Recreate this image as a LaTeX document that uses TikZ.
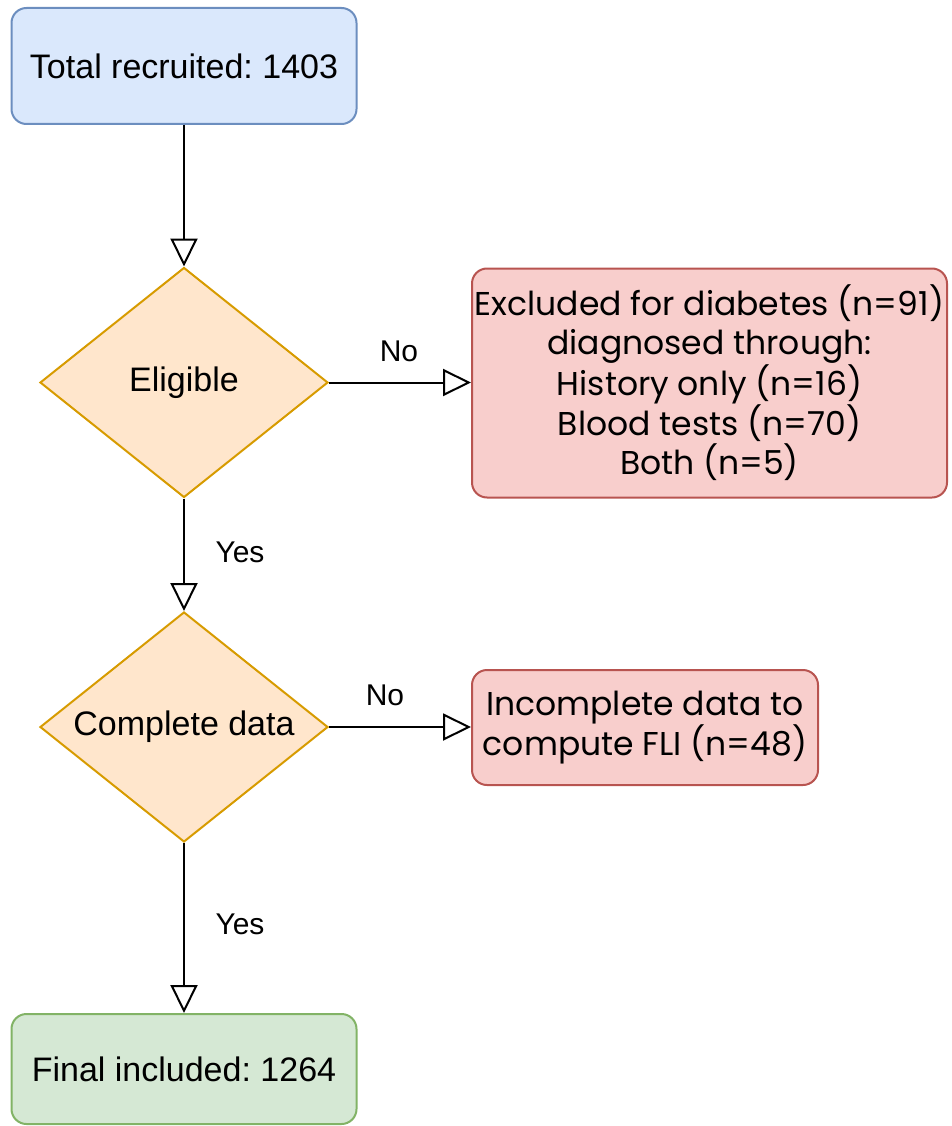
\documentclass[tikz,border=0pt]{standalone}
\usepackage{fontspec}
\setmainfont{Liberation Sans}
\newfontfamily\geofont{Poppins}
\usetikzlibrary{shapes.geometric,arrows.meta}
\definecolor{bluefill}{HTML}{DAE8FC}
\definecolor{bluedraw}{HTML}{6C8EBF}
\definecolor{orangefill}{HTML}{FFE6CC}
\definecolor{orangedraw}{HTML}{D79B00}
\definecolor{redfill}{HTML}{F8CECC}
\definecolor{reddraw}{HTML}{B85450}
\definecolor{greenfill}{HTML}{D5E8D4}
\definecolor{greendraw}{HTML}{82B366}
\frenchspacing
\tikzset{
  box/.style={rectangle, rounded corners=15pt, line width=2pt, inner sep=0pt, align=center,
    font=\fontsize{34}{39}\selectfont},
  bluebox/.style={box, fill=bluefill, draw=bluedraw},
  greenbox/.style={box, fill=greenfill, draw=greendraw},
  redbox/.style={box, fill=redfill, draw=reddraw, font=\geofont\fontsize{33}{39}\selectfont},
  decision/.style={diamond, shape aspect=1.25, fill=orangefill, draw=orangedraw, line width=2pt, inner sep=0pt,
    minimum width=288pt, minimum height=230pt, font=\fontsize{34}{39}\selectfont},
  arr/.style={line width=2pt, -{Triangle[open, length=28pt, width=27pt, line width=2pt]}},
  lbl/.style={font=\fontsize{30}{36}\selectfont, inner sep=0pt}
}
\begin{document}
\begin{tikzpicture}[x=1pt, y=-1pt]
\useasboundingbox (0,0) rectangle (951,1126);
\node[bluebox, minimum width=345pt, minimum height=116pt] (total) at (184,66) {Total recruited: 1403};
\node[decision] (elig) at (184,382.5) {Eligible};
\node[redbox, minimum width=475pt, minimum height=229pt] (excl) at (709.5,383) {Excluded for diabetes (n=91)\\diagnosed through:\\History only (n=16)\\Blood tests (n=70)\\Both (n=5)};
\node[decision] (comp) at (184,727) {Complete data};
\node[redbox, minimum width=346pt, minimum height=115pt] (incomp) at (645,727.5) {Incomplete data to\\compute FLI (n=48)};
\node[greenbox, minimum width=345pt, minimum height=110pt] (final) at (184,1069) {Final included: 1264};
\draw[arr] (total.south) -- (elig.north);
\draw[arr] (elig.east) -- (excl.west |- elig.east);
\draw[arr] (elig.south) -- (comp.north);
\draw[arr] (comp.east) -- (incomp.west |- comp.east);
\draw[arr] (comp.south) -- (final.north);
\node[lbl] (no1) at (399,351) {No};
\node[lbl] (yes1) at (240,552) {Yes};
\node[lbl] (no2) at (385,695) {No};
\node[lbl] (yes2) at (240,924) {Yes};
\end{tikzpicture}
\end{document}
